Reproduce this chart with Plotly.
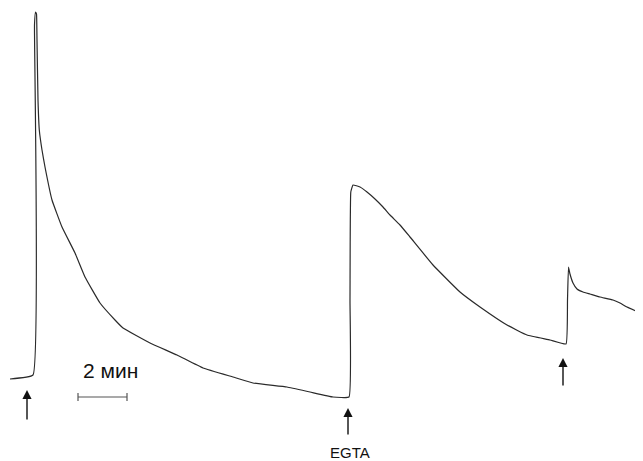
import plotly.graph_objects as go

# Trace: time (arbitrary units, left to right) and signal (arbitrary units, up)
time = [10, 33, 34.5, 35.5, 36.5, 37, 38, 39.3, 42, 45, 52, 62, 75, 85, 100, 115, 123,
        150, 177, 203, 233, 253, 287, 310, 333, 349, 350, 350.8, 353, 360, 367, 375,
        383, 390, 400, 410, 433, 460, 480, 507, 527, 550, 566, 567.5, 568.5, 570,
        573, 577, 583, 590, 600, 613, 620, 627, 643]
signal_px = [379, 375, 25, 12, 14, 40, 100, 130, 150, 167, 200, 227, 253, 277, 303, 320, 328,
             343, 355, 368, 377, 383, 387, 392, 397, 397, 300, 192, 185, 187, 192, 199,
             207, 215, 225, 237, 265, 292, 307, 325, 335, 340, 344, 300, 267, 274,
             283, 289, 292, 294, 297, 300, 303, 307, 314]
H = 461
signal = [H - v for v in signal_px]

# Stimulus arrows: x position, tail, head
arrow_x = [27, 348, 563]
arrow_tail = [H - 421, H - 436, H - 387]
arrow_head = [H - 390, H - 408, H - 358]
arrow_label = ["", "EGTA", ""]

# Scale bar
bar_x = [78, 127]
bar_y = H - 397
bar_text = "2 мин"

fig = go.Figure()
fig.add_trace(go.Scatter(x=time, y=signal, mode="lines",
                         line=dict(color="#2a2a2a", width=1.2, shape="spline", smoothing=0.3),
                         hoverinfo="skip", showlegend=False))

# scale bar line with end ticks
fig.add_trace(go.Scatter(x=[bar_x[0], bar_x[1]], y=[bar_y, bar_y], mode="lines",
                         line=dict(color="#555555", width=1.2), showlegend=False, hoverinfo="skip"))
for bx in bar_x:
    fig.add_trace(go.Scatter(x=[bx, bx], y=[bar_y - 4, bar_y + 4], mode="lines",
                             line=dict(color="#555555", width=1.2), showlegend=False, hoverinfo="skip"))

fig.add_annotation(x=110, y=H - 370, xref="x", yref="y", text=bar_text, showarrow=False,
                   font=dict(family="Liberation Sans, Arial", size=21, color="#111111"))

for ax_, t, h, lab in zip(arrow_x, arrow_tail, arrow_head, arrow_label):
    fig.add_annotation(x=ax_, y=h, ax=ax_, ay=t, xref="x", yref="y", axref="x", ayref="y",
                       text="", showarrow=True, arrowhead=2, arrowsize=1.3, arrowwidth=1.4,
                       arrowcolor="#111111")
    if lab:
        fig.add_annotation(x=ax_ + 2, y=H - 452, xref="x", yref="y", text=lab, showarrow=False,
                           font=dict(family="Liberation Sans, Arial", size=15, color="#111111"))

# page body has an 8px margin, so offset the ranges to keep marks where the reference shows them
fig.update_layout(width=643, height=461, margin=dict(l=0, r=0, t=0, b=0),
                  paper_bgcolor="white", plot_bgcolor="white",
                  xaxis=dict(range=[8, 651], visible=False, fixedrange=True),
                  yaxis=dict(range=[-8, 453], visible=False, fixedrange=True))
fig.write_html("out.html")
